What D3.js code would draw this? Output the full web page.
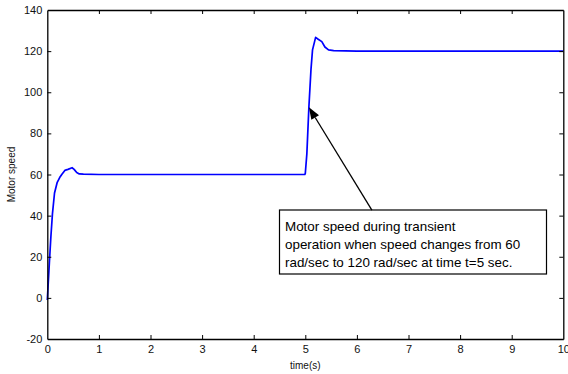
<!DOCTYPE html>
<html><head><meta charset="utf-8">
<script src="https://cdn.jsdelivr.net/npm/d3@7"></script>
<style>body{margin:0;background:#fff;} svg{display:block;font-family:"Liberation Sans",Arial,sans-serif;}</style>
</head><body><svg id="c" width="568" height="374"></svg>
<script>
const timeVals = [0, 0.02, 0.04, 0.07, 0.1, 0.14, 0.19, 0.24, 0.28, 0.34, 0.4, 0.48, 0.52, 0.57, 0.62, 0.7, 1, 2, 3, 4, 4.99, 5.0, 5.03, 5.07, 5.11, 5.14, 5.2, 5.25, 5.32, 5.38, 5.45, 5.55, 6, 7, 8, 9, 10];
const speedVals = [-1, 8, 17, 30, 41, 51, 56, 58.5, 60, 62, 62.5, 63.3, 62.5, 61, 60.3, 60.2, 60, 60, 60, 60, 60, 60.5, 70, 93, 111, 120.6, 126.7, 125.8, 124.6, 122, 120.6, 120.2, 120, 120, 120, 120, 120];
const xTicks = [0,1,2,3,4,5,6,7,8,9,10];
const yTicks = [-20,0,20,40,60,80,100,120,140];
const annotationLines = ["Motor speed during transient","operation when speed changes from 60","rad/sec to 120 rad/sec at time t=5 sec."];
const arrowFrom = [6.29, 42.7]; // data coords of arrow tail (box top)
const arrowTo = [5.07, 92.7];

const svg = d3.select("#c");
const L=47.3, R=563.3, T=10, B=339;
const x = d3.scaleLinear().domain([0,10]).range([L,R]);
const y = d3.scaleLinear().domain([-20,140]).range([B,T]);

// data line
svg.append("path").datum(d3.zip(timeVals,speedVals))
  .attr("fill","none").attr("stroke","#0000ff").attr("stroke-width",1.7)
  .attr("stroke-linejoin","round")
  .attr("d", d3.line().x(d=>x(d[0])).y(d=>y(d[1])));

// axes with inward ticks
const fs = "11px";
const fmt = d=>String(d);
const gB = svg.append("g").attr("transform",`translate(0,${B})`)
  .call(d3.axisBottom(x).tickValues(xTicks).tickSizeInner(-4).tickSizeOuter(0).tickPadding(6).tickFormat(fmt));
const gT = svg.append("g").attr("transform",`translate(0,${T})`)
  .call(d3.axisTop(x).tickValues(xTicks).tickSizeInner(-4).tickSizeOuter(0).tickFormat(""));
const gL = svg.append("g").attr("transform",`translate(${L},0)`)
  .call(d3.axisLeft(y).tickValues(yTicks).tickSizeInner(-4).tickSizeOuter(0).tickPadding(5).tickFormat(fmt));
const gR = svg.append("g").attr("transform",`translate(${R},0)`)
  .call(d3.axisRight(y).tickValues(yTicks).tickSizeInner(-4).tickSizeOuter(0).tickFormat(""));
[gB,gT,gL,gR].forEach(g=>{
  g.selectAll(".domain").attr("stroke","#000").attr("stroke-width",1.3);
  g.selectAll(".tick line").attr("stroke","#000");
  g.selectAll("text").attr("fill","#111").style("font-size",fs).style("font-family","Liberation Sans, Arial, sans-serif");
});
gB.selectAll(".tick").filter(d=>d===0||d===10).select("line").remove();
gT.selectAll(".tick").filter(d=>d===0||d===10).select("line").remove();
gL.selectAll(".tick").filter(d=>d===-20||d===140).select("line").remove();
gR.selectAll(".tick").filter(d=>d===-20||d===140).select("line").remove();

svg.append("text").attr("x",(L+R)/2).attr("y",369).attr("text-anchor","middle")
  .style("font-size","10px").attr("fill","#111").text("time(s)");
svg.append("text").attr("transform",`translate(15,${(T+B)/2}) rotate(-90)`).attr("text-anchor","middle")
  .style("font-size","10px").attr("fill","#111").text("Motor speed");

// annotation box
const bx=279.5, by=210, bw=267, bh=64;
svg.append("rect").attr("x",bx).attr("y",by).attr("width",bw).attr("height",bh)
  .attr("fill","#fff").attr("stroke","#000").attr("stroke-width",1.2);
annotationLines.forEach((t,i)=>{
  svg.append("text").attr("x",285).attr("y",231+i*18).style("font-size","13.4px").attr("fill","#000").text(t);
});

// arrow
const x1=x(arrowFrom[0]), y1=y(arrowFrom[1]), x2=x(arrowTo[0]), y2=y(arrowTo[1]);
const ang=Math.atan2(y2-y1,x2-x1), hl=12, hw=4.5;
const bxh=x2-hl*Math.cos(ang), byh=y2-hl*Math.sin(ang);
svg.append("line").attr("x1",x1).attr("y1",y1).attr("x2",bxh).attr("y2",byh).attr("stroke","#000").attr("stroke-width",1.3);
svg.append("path").attr("fill","#000").attr("d",
  `M${x2},${y2}L${bxh+hw*Math.sin(ang)},${byh-hw*Math.cos(ang)}L${bxh-hw*Math.sin(ang)},${byh+hw*Math.cos(ang)}Z`);
</script></body></html>
